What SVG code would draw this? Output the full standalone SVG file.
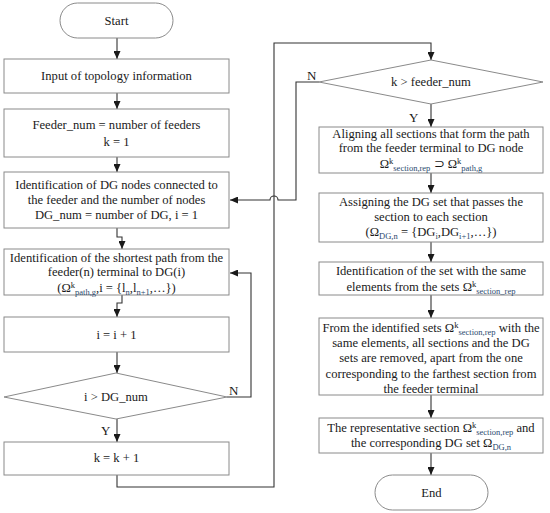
<svg xmlns="http://www.w3.org/2000/svg" width="550" height="513" viewBox="0 0 550 513" font-family="'Liberation Serif', serif">
<defs>
<marker id="ah" markerWidth="9" markerHeight="7" refX="8" refY="3.5" orient="auto" markerUnits="userSpaceOnUse">
<path d="M0,0 L8,3.5 L0,7 Z" fill="#1a1a1a"/>
</marker>
</defs>
<style>
.box{fill:#fff;stroke:#8a8a8a;stroke-width:1}
.t{font-size:12.6px;fill:#1a1a1a;text-anchor:middle}
.lb{font-size:13px;fill:#1a1a1a}
.s{font-size:8.5px;fill:#2b4a6f}
.k{font-size:8.5px}
.c{fill:none;stroke:#333;stroke-width:1.1;marker-end:url(#ah)}
</style>
<rect width="550" height="513" fill="#fff"/>

<g id="connectors">
<path class="c" d="M117,38 V59"/>
<path class="c" d="M117,93 V109"/>
<path class="c" d="M117,157 V172"/>
<path class="c" d="M117,228 V237 H122 V249"/>
<path class="c" d="M122,295 V303 H117 V317"/>
<path class="c" d="M117,352 V373"/>
<path class="c" d="M227,397 H251 V273 H230"/>
<path class="c" d="M117,419 V442"/>
<path class="c" d="M117,475 V487 H274 V43 H431 V60"/>
<path class="c" d="M319,82 H296 V200 H278 A4,4 0 0 0 270,200 H230"/>
<path class="c" d="M431,104 V127"/>
<path class="c" d="M431,173 V193"/>
<path class="c" d="M431,242 V262"/>
<path class="c" d="M431,295 V318"/>
<path class="c" d="M431,395 V418"/>
<path class="c" d="M431,453 V475"/>
<text class="lb" x="229" y="395">N</text>
<text class="lb" x="101" y="435">Y</text>
<text class="lb" x="307" y="80">N</text>
<text class="lb" x="409" y="122">Y</text>
</g>

<g id="start">
<rect class="box" x="60" y="3" width="113" height="35" rx="17.5"/>
<text class="t" x="116.5" y="25">Start</text>
</g>

<g id="input">
<rect class="box" x="4" y="59" width="225" height="34"/>
<text class="t" x="116.5" y="80">Input of topology information</text>
</g>

<g id="feeder">
<rect class="box" x="4" y="109" width="225" height="48"/>
<text class="t" x="116.5" y="129">Feeder_num = number of feeders</text>
<text class="t" x="116.5" y="146">k = 1</text>
</g>

<g id="dgnodes">
<rect class="box" x="4" y="172" width="225" height="56"/>
<text class="t" x="116.5" y="189">Identification of DG nodes connected to</text>
<text class="t" x="116.5" y="204">the feeder and the number of nodes</text>
<text class="t" x="116.5" y="219">DG_num = number of DG, i = 1</text>
</g>

<g id="shortest">
<rect class="box" x="4" y="249" width="225" height="46"/>
<text class="t" x="116.5" y="262">Identification of the shortest path from the</text>
<text class="t" x="116.5" y="276">feeder(n) terminal to DG(i)</text>
<text class="t" x="116.5" y="292">(Ω<tspan class="k" baseline-shift="4">k</tspan><tspan class="s" baseline-shift="-3">path,g</tspan>,i = {l<tspan class="s" baseline-shift="-3">n</tspan>,l<tspan class="s" baseline-shift="-3">n+1</tspan>,…})</text>
</g>

<g id="incr">
<rect class="box" x="4" y="317" width="225" height="35"/>
<text class="t" x="116.5" y="339">i = i + 1</text>
</g>

<g id="dec_i">
<polygon class="box" points="116,373 227,397 116,419 4,397"/>
<text class="t" x="116" y="401">i &gt; DG_num</text>
</g>

<g id="kinc">
<rect class="box" x="4" y="442" width="225" height="33"/>
<text class="t" x="116.5" y="462">k = k + 1</text>
</g>

<g id="dec_k">
<polygon class="box" points="431,60 543,82 431,104 319,82"/>
<text class="t" x="431" y="86">k &gt; feeder_num</text>
</g>

<g id="align">
<rect class="box" x="319" y="127" width="224" height="46"/>
<text class="t" x="431" y="138">Aligning all sections that form the path</text>
<text class="t" x="431" y="152">from the feeder terminal to DG node</text>
<text class="t" x="431" y="168">Ω<tspan class="k" baseline-shift="4">k</tspan><tspan class="s" baseline-shift="-3">section,rep</tspan> ⊃ Ω<tspan class="k" baseline-shift="4">k</tspan><tspan class="s" baseline-shift="-3">path,g</tspan></text>
</g>

<g id="assign">
<rect class="box" x="319" y="193" width="224" height="49"/>
<text class="t" x="431" y="206">Assigning the DG set that passes the</text>
<text class="t" x="431" y="221">section to each section</text>
<text class="t" x="431" y="236">(Ω<tspan class="s" baseline-shift="-3">DG,n</tspan> = {DG<tspan class="s" baseline-shift="-3">i</tspan>,DG<tspan class="s" baseline-shift="-3">i+1</tspan>,…})</text>
</g>

<g id="sameset">
<rect class="box" x="319" y="262" width="224" height="33"/>
<text class="t" x="431" y="275">Identification of the set with the same</text>
<text class="t" x="431" y="291">elements from the sets Ω<tspan class="k" baseline-shift="4">k</tspan><tspan class="s" baseline-shift="-3">section_rep</tspan></text>
</g>

<g id="remove">
<rect class="box" x="319" y="318" width="224" height="77"/>
<text class="t" x="431" y="332">From the identified sets Ω<tspan class="k" baseline-shift="4">k</tspan><tspan class="s" baseline-shift="-3">section,rep</tspan> with the</text>
<text class="t" x="431" y="347">same elements, all sections and the DG</text>
<text class="t" x="431" y="362">sets are removed, apart from the one</text>
<text class="t" x="431" y="378">corresponding to the farthest section from</text>
<text class="t" x="431" y="393">the feeder terminal</text>
</g>

<g id="represent">
<rect class="box" x="319" y="418" width="224" height="35"/>
<text class="t" x="431" y="432">The representative section Ω<tspan class="k" baseline-shift="4">k</tspan><tspan class="s" baseline-shift="-3">section,rep</tspan> and</text>
<text class="t" x="431" y="447">the corresponding DG set  Ω<tspan class="s" baseline-shift="-3">DG,n</tspan></text>
</g>

<g id="end">
<rect class="box" x="375" y="475" width="113" height="35" rx="17.5"/>
<text class="t" x="431.5" y="497">End</text>
</g>
</svg>
